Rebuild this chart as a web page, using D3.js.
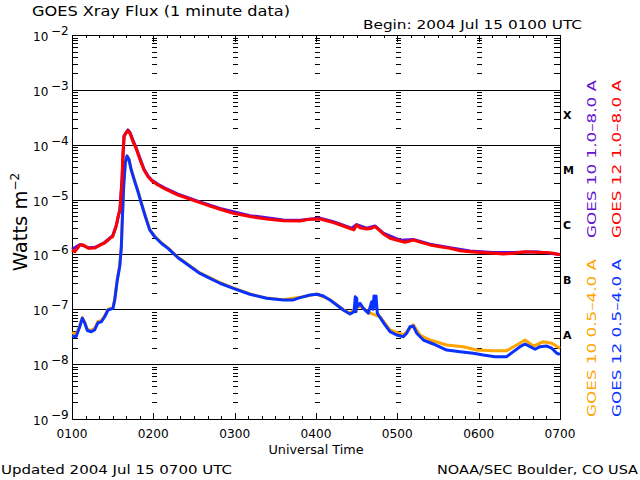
<!DOCTYPE html>
<html>
<head>
<meta charset="utf-8">
<script src="https://cdn.jsdelivr.net/npm/d3@7"></script>
<style>
  body { margin: 0; background: #fff; }
  svg { display: block; }
  text { font-family: "DejaVu Sans", sans-serif; }
</style>
</head>
<body>
<div id="chart"></div>
<script>
// Chart data: minutes after 0100 UTC, flux in W m^-2
const hourLabels = ["0100", "0200", "0300", "0400", "0500", "0600", "0700"];
const decadeExponents = [-9, -8, -7, -6, -5, -4, -3, -2];
const flareClasses = ["A", "B", "C", "M", "X"];
const classBaseFlux = [1e-8, 1e-7, 1e-6, 1e-5, 1e-4];

// GOES 10 1.0-8.0 A (purple)
const goes10Long = [
  [0, 1.24e-6], [6, 1.52e-6], [12, 1.33e-6], [17, 1.35e-6], [24, 1.65e-6], [30, 2.2e-6],
  [33, 3.6e-6], [35.4, 6.8e-6], [36.9, 2.4e-5], [38.4, 1.45e-4], [41.3, 1.86e-4], [42.8, 1.66e-4],
  [45, 1.2e-4], [47.2, 9.0e-5], [50.2, 5.6e-5], [53.1, 3.6e-5], [56.1, 2.7e-5], [59, 2.26e-5],
  [63.4, 1.9e-5], [68.6, 1.62e-5], [78.2, 1.26e-5], [94.4, 9.1e-6], [109.2, 6.9e-6], [131.3, 5.1e-6],
  [155.9, 4.25e-6], [168.2, 4.2e-6], [183, 4.6e-6], [192.8, 3.95e-6], [206.3, 3.0e-6], [210, 3.5e-6],
  [217.4, 3.0e-6], [223.5, 3.3e-6], [229.7, 2.45e-6], [242, 1.82e-6], [251.8, 1.88e-6], [264.1, 1.54e-6],
  [278.9, 1.33e-6], [293.6, 1.15e-6], [310.8, 1.08e-6], [325.6, 1.08e-6], [342.8, 1.12e-6], [360, 1.0e-6]
];

// GOES 12 1.0-8.0 A (red)
const goes12Long = [
  [0, 1.2e-6], [2, 1.12e-6], [6, 1.49e-6], [8, 1.5e-6], [12, 1.29e-6], [17, 1.31e-6], [21, 1.49e-6],
  [24, 1.6e-6], [28, 1.97e-6], [30, 2.1e-6], [32.5, 3.2e-6], [34, 4.9e-6], [35.4, 6.5e-6], [36.1, 1.13e-5],
  [36.9, 2.27e-5], [37.6, 7.1e-5], [38.4, 1.4e-4], [39.8, 1.64e-4], [41.3, 1.8e-4], [42.8, 1.6e-4],
  [45, 1.14e-4], [47.2, 8.6e-5], [50.2, 5.3e-5], [53.1, 3.46e-5], [56.1, 2.6e-5], [59, 2.18e-5],
  [63.4, 1.84e-5], [68.6, 1.56e-5], [78.2, 1.21e-5], [94.4, 8.8e-6], [101.8, 7.6e-6], [109.2, 6.65e-6],
  [119, 5.6e-6], [131.3, 4.9e-6], [143.6, 4.4e-6], [155.9, 4.1e-6], [168.2, 4.07e-6], [175.6, 4.4e-6],
  [183, 4.43e-6], [187.9, 4.1e-6], [192.8, 3.8e-6], [200.1, 3.3e-6], [206.3, 2.9e-6], [208, 2.8e-6],
  [210, 3.44e-6], [212.5, 3.07e-6], [217.4, 2.9e-6], [221.1, 3.0e-6], [223.5, 3.2e-6], [226, 2.87e-6],
  [229.7, 2.36e-6], [234.6, 1.97e-6], [242, 1.76e-6], [245.6, 1.66e-6], [251.8, 1.83e-6], [258, 1.64e-6],
  [264.1, 1.49e-6], [271.5, 1.38e-6], [278.9, 1.29e-6], [286.2, 1.17e-6], [293.6, 1.12e-6], [301, 1.08e-6],
  [310.8, 1.05e-6], [318.2, 1.02e-6], [325.6, 1.05e-6], [334.2, 1.12e-6], [342.8, 1.09e-6], [350.2, 1.09e-6],
  [355.1, 1.05e-6], [360, 0.98e-6]
];

// GOES 10 0.5-4.0 A (orange)
const goes10Short = [
  [0, 3.75e-8], [3, 3.5e-8], [5.7, 5.0e-8], [7.6, 7.0e-8], [9.4, 5.8e-8], [11.3, 4.3e-8], [14.2, 4.1e-8],
  [16.7, 4.5e-8], [19.2, 6.0e-8], [21.6, 6.2e-8], [24.1, 7.6e-8], [26.6, 1.0e-7], [30.2, 1.07e-7],
  [31.5, 1.5e-7], [33.4, 3.5e-7], [35.2, 6.2e-7], [36.4, 1.4e-6], [37.1, 4.3e-6], [38.1, 1.75e-5],
  [39.3, 4.7e-5], [40.6, 6.3e-5], [42, 5.5e-5], [43.7, 3.5e-5], [46.3, 2.2e-5], [48.7, 1.43e-5],
  [51.1, 8.9e-6], [54.1, 5.1e-6], [57.3, 2.9e-6], [61, 2.15e-6], [65.9, 1.64e-6], [70.8, 1.32e-6],
  [78.2, 8.9e-7], [94.4, 4.6e-7], [109.2, 3.05e-7], [119, 2.45e-7], [131.3, 1.9e-7], [143.6, 1.6e-7],
  [155.9, 1.5e-7], [168.2, 1.65e-7], [180.5, 1.9e-7], [190.3, 1.5e-7], [200.1, 9.9e-8], [205.1, 8.4e-8],
  [210.5, 1.13e-7], [214.9, 1.06e-7], [218.6, 8.8e-8], [227.2, 7.3e-8], [234.6, 4.2e-8], [244.4, 3.4e-8],
  [251.8, 5.2e-8], [256.7, 3.4e-8], [264.1, 2.75e-8], [276.4, 2.23e-8], [288.7, 2.08e-8], [298.5, 1.81e-8],
  [310.8, 1.76e-8], [320.7, 1.76e-8], [328, 2.23e-8], [334.2, 2.75e-8], [340.3, 2.14e-8], [347.7, 2.56e-8],
  [353.9, 2.4e-8], [360, 1.95e-8]
];

// GOES 12 0.5-4.0 A (blue)
const goes12Short = [
  [0, 3.26e-8], [3, 3.16e-8], [5.7, 4.8e-8], [7.6, 6.9e-8], [9.4, 5.6e-8], [11.3, 4.1e-8], [14.2, 3.9e-8],
  [16.7, 4.2e-8], [19.2, 5.7e-8], [21.6, 5.9e-8], [24.1, 7.3e-8], [26.6, 9.7e-8], [30.2, 1.04e-7],
  [31.5, 1.48e-7], [33.4, 3.4e-7], [35.2, 6.0e-7], [36.4, 1.38e-6], [37.1, 4.2e-6], [38.1, 1.72e-5],
  [39.3, 4.6e-5], [40.6, 6.2e-5], [42, 5.4e-5], [43.7, 3.46e-5], [46.3, 2.12e-5], [48.7, 1.39e-5],
  [51.1, 8.6e-6], [54.1, 4.9e-6], [57.3, 2.8e-6], [61, 2.1e-6], [65.9, 1.6e-6], [70.8, 1.29e-6],
  [78.2, 8.7e-7], [94.4, 4.5e-7], [101.8, 3.67e-7], [109.2, 2.98e-7], [119, 2.41e-7], [131.3, 1.88e-7],
  [143.6, 1.59e-7], [155.9, 1.48e-7], [163.3, 1.48e-7], [168.2, 1.63e-7], [175.6, 1.82e-7], [180.5, 1.88e-7],
  [185.4, 1.75e-7], [190.3, 1.48e-7], [195.3, 1.2e-7], [200.1, 9.7e-8], [205.1, 8.2e-8], [208, 9.0e-8],
  [209, 1.7e-7], [209.5, 9.0e-8], [210, 1.6e-7], [210.5, 1.11e-7], [212.5, 1.28e-7], [214.9, 1.04e-7],
  [218.6, 8.5e-8], [221.1, 1.37e-7], [222, 1.0e-7], [222.8, 1.75e-7], [223.5, 1.1e-7], [224.3, 1.75e-7],
  [225.2, 8.5e-8], [227.2, 7.1e-8], [230.9, 5.2e-8], [234.6, 3.9e-8], [239.5, 3.4e-8], [244.4, 3.16e-8],
  [246.9, 3.66e-8], [249.3, 4.8e-8], [251.8, 4.95e-8], [254.3, 3.66e-8], [259.2, 2.75e-8], [266.5, 2.33e-8],
  [276.4, 1.81e-8], [286.2, 1.69e-8], [296, 1.58e-8], [303.4, 1.47e-8], [312, 1.37e-8], [320.7, 1.37e-8],
  [325.6, 1.69e-8], [330.5, 2.08e-8], [334.2, 2.33e-8], [337.9, 2.08e-8], [341.6, 1.87e-8], [345.2, 2.08e-8],
  [350.2, 2.14e-8], [353.9, 1.95e-8], [357.6, 1.58e-8], [360, 1.51e-8]
];

const series = [
  { name: "GOES 10 0.5\u20134.0 A", color: "#ffa500", data: goes10Short },
  { name: "GOES 12 0.5\u20134.0 A", color: "#0a32ff", data: goes12Short },
  { name: "GOES 10 1.0\u20138.0 A", color: "#6410d2", data: goes10Long },
  { name: "GOES 12 1.0\u20138.0 A", color: "#ff0000", data: goes12Long }
];

const width = 640, height = 480;
const plot = { left: 72, right: 560, top: 35, bottom: 419 };

const x = d3.scaleLinear().domain([0, 360]).range([plot.left, plot.right]);
const y = d3.scaleLog().domain([1e-9, 1e-2]).range([plot.bottom, plot.top]);

const svg = d3.select("#chart").append("svg")
  .attr("width", width)
  .attr("height", height)
  .style("background", "#fff");

const axisG = svg.append("g")
  .attr("stroke", "#000")
  .attr("stroke-width", 1)
  .attr("shape-rendering", "crispEdges");

// minor decade positions (2..9 x 10^n)
const minorVals = [];
decadeExponents.slice(0, -1).forEach(e => {
  for (let k = 2; k <= 9; k++) minorVals.push(k * Math.pow(10, e));
});
const hourMinutes = d3.range(0, 361, 60);
const tenMinutes = d3.range(0, 361, 10);

// horizontal decade lines
axisG.selectAll(".grid")
  .data(decadeExponents.slice(1, -1))
  .enter().append("line")
  .attr("x1", plot.left).attr("x2", plot.right)
  .attr("y1", d => Math.round(y(Math.pow(10, d))) + 0.5)
  .attr("y2", d => Math.round(y(Math.pow(10, d))) + 0.5);

// minor ticks on left, right and each interior hour
const tickCols = [
  [plot.left, plot.left + 6],
  [plot.right - 6, plot.right]
];
hourMinutes.slice(1, -1).forEach(m => tickCols.push([x(m) - 1.5, x(m) + 3.5]));
tickCols.forEach(([a, b]) => {
  axisG.append("g").selectAll("line")
    .data(minorVals)
    .enter().append("line")
    .attr("x1", a).attr("x2", b)
    .attr("y1", d => Math.round(y(d)) + 0.5)
    .attr("y2", d => Math.round(y(d)) + 0.5);
});

// top and bottom time ticks
axisG.append("g").selectAll("line")
  .data(tenMinutes)
  .enter().append("line")
  .attr("x1", d => Math.round(x(d)) + 0.5).attr("x2", d => Math.round(x(d)) + 0.5)
  .attr("y1", plot.top)
  .attr("y2", d => plot.top + (d % 60 === 0 ? 7 : 3));
axisG.append("g").selectAll("line")
  .data(tenMinutes)
  .enter().append("line")
  .attr("x1", d => Math.round(x(d)) + 0.5).attr("x2", d => Math.round(x(d)) + 0.5)
  .attr("y1", plot.bottom)
  .attr("y2", d => plot.bottom - (d % 60 === 0 ? 6 : 3.5));

// frame
axisG.append("rect")
  .attr("x", plot.left + 0.5).attr("y", plot.top + 0.5)
  .attr("width", plot.right - plot.left).attr("height", plot.bottom - plot.top)
  .attr("fill", "none");

// data lines
const line = d3.line()
  .x(d => x(d[0]))
  .y(d => y(d[1]));

svg.append("g").selectAll("path")
  .data(series)
  .enter().append("path")
  .attr("d", d => line(d.data))
  .attr("fill", "none")
  .attr("stroke", d => d.color)
  .attr("stroke-width", 3)
  .attr("stroke-linejoin", "round");

// y tick labels 10^n
const ylab = svg.append("g").attr("font-size", 12).attr("fill", "#000");
decadeExponents.forEach(e => {
  const yy = y(Math.pow(10, e));
  ylab.append("text").attr("x", 33).attr("y", yy + 6).text("10");
  ylab.append("text").attr("x", 51).attr("y", yy).text("\u2212" + Math.abs(e));
});

// y axis title
const yTitle = svg.append("text")
  .attr("transform", "translate(27,222) rotate(-90)")
  .attr("text-anchor", "middle")
  .attr("font-size", 19.5);
yTitle.append("tspan").text("Watts m");
yTitle.append("tspan").attr("dy", -8).attr("font-size", 12).text("\u22122");

// flare class letters
svg.append("g").selectAll("text")
  .data(flareClasses)
  .enter().append("text")
  .attr("x", 563)
  .attr("y", (d, i) => y(classBaseFlux[i] * Math.sqrt(10)) + 2)
  .attr("font-family", "'DejaVu Serif', serif")
  .attr("font-weight", "bold")
  .attr("font-size", 11)
  .text(d => d);

// x tick labels
svg.append("g").selectAll("text")
  .data(hourLabels)
  .enter().append("text")
  .attr("x", (d, i) => x(i * 60))
  .attr("y", 437.5)
  .attr("text-anchor", "middle")
  .attr("font-size", 11.5)
  .attr("textLength", 31)
  .attr("lengthAdjust", "spacingAndGlyphs")
  .text(d => d);

svg.append("text")
  .attr("x", (plot.left + plot.right) / 2).attr("y", 453.5)
  .attr("text-anchor", "middle").attr("font-size", 11.5)
  .attr("textLength", 95).attr("lengthAdjust", "spacingAndGlyphs")
  .text("Universal Time");

// titles and footers
svg.append("text")
  .attr("x", 32).attr("y", 16).attr("font-size", 13.5)
  .attr("textLength", 258).attr("lengthAdjust", "spacingAndGlyphs")
  .text("GOES Xray Flux (1 minute data)");
svg.append("text")
  .attr("x", 363).attr("y", 28.5).attr("font-size", 13)
  .attr("textLength", 219).attr("lengthAdjust", "spacingAndGlyphs")
  .text("Begin: 2004 Jul 15 0100 UTC");
svg.append("text")
  .attr("x", 1).attr("y", 474).attr("font-size", 13)
  .attr("textLength", 231).attr("lengthAdjust", "spacingAndGlyphs")
  .text("Updated 2004 Jul 15 0700 UTC");
svg.append("text")
  .attr("x", 437).attr("y", 474).attr("font-size", 13)
  .attr("textLength", 201).attr("lengthAdjust", "spacingAndGlyphs")
  .text("NOAA/SEC Boulder, CO USA");

// rotated legend text
const legendPos = [
  { s: series[0], x: 596, y: 417 },
  { s: series[1], x: 621, y: 417 },
  { s: series[2], x: 596, y: 238 },
  { s: series[3], x: 621, y: 238 }
];
svg.append("g").selectAll("text")
  .data(legendPos)
  .enter().append("text")
  .attr("transform", d => `translate(${d.x},${d.y}) rotate(-90)`)
  .attr("font-size", 13)
  .attr("fill", d => d.s.color)
  .attr("textLength", 158)
  .attr("lengthAdjust", "spacingAndGlyphs")
  .text(d => d.s.name);
</script>
</body>
</html>
